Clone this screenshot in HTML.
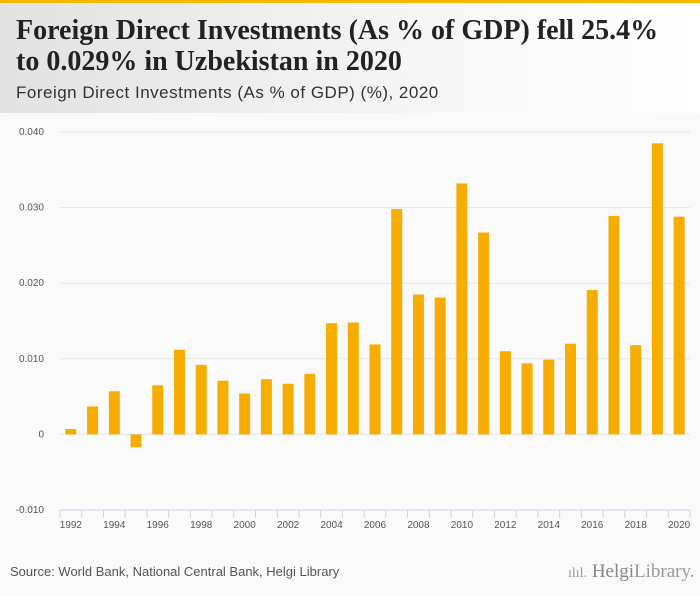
<!DOCTYPE html>
<html><head><meta charset="utf-8"><style>
body{margin:0;width:700px;height:596px;background:#fafafa;font-family:"Liberation Sans",sans-serif;overflow:hidden;position:relative}
#hdr{position:absolute;left:0;top:0;width:700px;height:113px;background:linear-gradient(90deg,#e2e2e2,#f6f6f6 60%,#fff);border-top:3px solid #f5b800;box-sizing:border-box}
#title{position:absolute;left:16px;top:12px;font-family:"Liberation Serif",serif;font-weight:bold;font-size:28px;line-height:31px;color:#222;white-space:nowrap}
#sub{position:absolute;left:16px;top:80px;font-size:17px;letter-spacing:0.5px;color:#333;white-space:nowrap}
#src{position:absolute;left:10px;top:564px;font-size:13px;color:#555}
#logo{position:absolute;left:568px;top:561px;font-family:"Liberation Serif",serif;font-size:19px;color:#999}
</style></head><body>
<div id="hdr">
<div id="title">Foreign Direct Investments (As % of GDP) fell 25.4%<br>to 0.029% in Uzbekistan in 2020</div>
<div id="sub">Foreign Direct Investments (As % of GDP) (%), 2020</div>
</div>
<svg id="chart" width="700" height="596" style="position:absolute;left:0;top:0"></svg>
<div id="src">Source: World Bank, National Central Bank, Helgi Library</div>
<div id="logo"><span style="font-size:14px">ılıl.</span> <b style="font-weight:normal;color:#888">Helgi</b>Library.</div>
<script>
const years=[1992,1993,1994,1995,1996,1997,1998,1999,2000,2001,2002,2003,2004,2005,2006,2007,2008,2009,2010,2011,2012,2013,2014,2015,2016,2017,2018,2019,2020];
const values=[0.0007,0.0037,0.0057,-0.0017,0.0065,0.0112,0.0092,0.0071,0.0054,0.0073,0.0067,0.0080,0.0147,0.0148,0.0119,0.0298,0.0185,0.0181,0.0332,0.0267,0.0110,0.0094,0.0099,0.0120,0.0191,0.0289,0.0118,0.0385,0.0288];
const yTicks=[0.04,0.03,0.02,0.01,0,-0.01];
const yTickLabels=["0.040","0.030","0.020","0.010","0","-0.010"];
const NS="http://www.w3.org/2000/svg";
const svg=document.getElementById('chart');
const x0=60,x1=690,yTop=132,yBot=510,vMax=0.04,vMin=-0.01;
const step=(x1-x0)/years.length;
function y(v){return yTop+(vMax-v)/(vMax-vMin)*(yBot-yTop);}
function xc(i){return x0+step*(i+0.5);}
function mk(t,a){const e=document.createElementNS(NS,t);for(const k in a)e.setAttribute(k,a[k]);svg.appendChild(e);return e;}
yTicks.forEach((t,i)=>{
 const g=mk('line',{x1:x0,x2:x1,y1:y(t),y2:y(t),stroke:t===vMin?'#c8d3e6':'#e6e6e6','stroke-width':1});
 
 
 const l=mk('text',{x:44,y:y(t)+3,'text-anchor':'end','font-size':10,fill:'#555','font-family':'Liberation Sans, sans-serif'});
 l.textContent=yTickLabels[i];
 
 
});
for(let i=0;i<=years.length;i++){
 const tk=mk('line',{x1:x0+step*i,x2:x0+step*i,y1:yBot,y2:yBot+8,stroke:'#c8d3e6'});
 
 
}
years.forEach((yr,i)=>{
 const v=values[i];
 const b=mk('rect',{x:xc(i)-5.5,width:11,y:Math.min(y(v),y(0)),height:Math.abs(y(v)-y(0)),fill:'#f7ac00'});
 
 
 if(i%2===0){
  const t=mk('text',{x:xc(i),y:528,'text-anchor':'middle','font-size':10,fill:'#555','font-family':'Liberation Sans, sans-serif'});
  t.textContent=yr;
  
  
 }
});
</script>
</body></html>
